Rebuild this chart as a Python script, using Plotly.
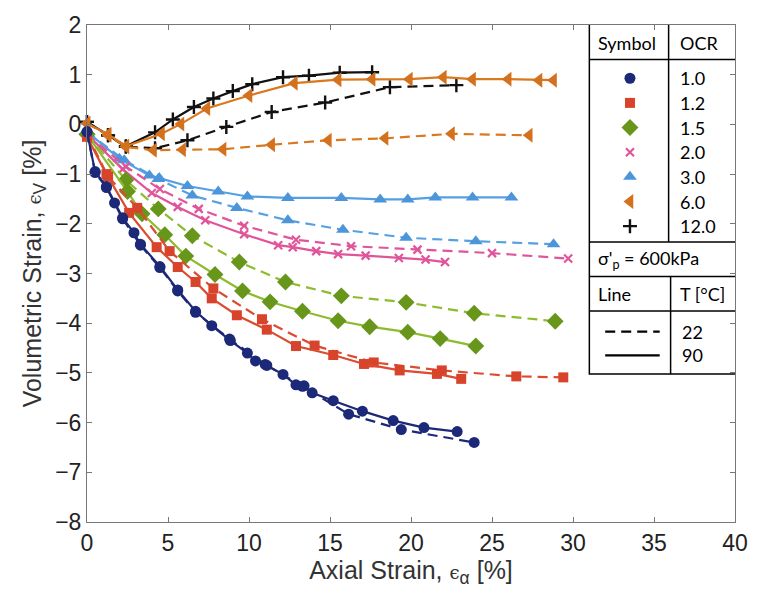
import plotly.graph_objects as go

# ---- measured curves: axial strain (%) vs volumetric strain (%) ----
# OCR 1.0
ocr10_90_x = [0, 0.5, 1.2, 1.7, 2.2, 2.9, 3.3, 4.5, 5.6, 6.7, 7.7, 8.85, 9.9, 10.4, 11.1, 12.1, 12.9, 13.4, 13.9, 15.2, 17.0, 18.9, 20.8, 22.85]
ocr10_90_y = [-0.15, -0.95, -1.25, -1.58, -1.88, -2.18, -2.41, -2.86, -3.33, -3.76, -4.05, -4.35, -4.6, -4.76, -4.85, -5.03, -5.24, -5.26, -5.4, -5.56, -5.77, -5.96, -6.1, -6.18]
ocr10_22_x = [0, 0.5, 1.2, 2.2, 3.3, 4.5, 5.6, 6.7, 8.8, 11.0, 13.3, 16.15, 19.4, 23.9]
ocr10_22_y = [-0.15, -0.97, -1.27, -1.9, -2.43, -2.88, -3.35, -3.78, -4.32, -4.83, -5.27, -5.83, -6.14, -6.4]
# OCR 1.2
ocr12_90_x = [0, 1.2, 2.6, 4.3, 5.6, 6.7, 7.7, 9.25, 11.1, 12.9, 15.2, 17.1, 19.3, 21.6, 23.1]
ocr12_90_y = [-0.25, -1.0, -1.78, -2.47, -2.87, -3.17, -3.5, -3.84, -4.13, -4.46, -4.64, -4.82, -4.95, -5.02, -5.12]
ocr12_22_x = [0, 1.3, 3.1, 5.1, 7.8, 10.8, 14.05, 17.7, 21.9, 26.5, 29.4]
ocr12_22_y = [-0.2, -1.05, -1.68, -2.55, -3.3, -3.92, -4.45, -4.79, -4.95, -5.07, -5.09]
# OCR 1.5
ocr15_90_x = [0, 2.5, 3.4, 4.8, 6.1, 7.9, 9.6, 11.3, 13.3, 15.5, 17.45, 19.8, 21.8, 24.0]
ocr15_90_y = [-0.2, -1.35, -1.8, -2.22, -2.65, -3.02, -3.35, -3.57, -3.76, -3.95, -4.07, -4.18, -4.31, -4.46]
ocr15_22_x = [0, 2.4, 4.4, 6.5, 9.4, 12.25, 15.7, 19.7, 23.9, 28.9]
ocr15_22_y = [-0.2, -1.12, -1.7, -2.24, -2.77, -3.17, -3.45, -3.58, -3.8, -3.96]
# OCR 2.0
ocr20_90_x = [0, 2.2, 4.0, 5.6, 7.3, 9.7, 11.8, 12.7, 14.15, 15.5, 17.2, 19.25, 20.9, 22.1]
ocr20_90_y = [-0.2, -0.9, -1.38, -1.66, -1.93, -2.21, -2.43, -2.47, -2.55, -2.61, -2.64, -2.69, -2.72, -2.77]
ocr20_22_x = [0, 2.4, 4.5, 6.9, 9.7, 12.9, 16.3, 20.4, 25.0, 29.7]
ocr20_22_y = [-0.2, -0.85, -1.3, -1.7, -2.04, -2.32, -2.45, -2.52, -2.59, -2.7]
# OCR 3.0
ocr30_90_x = [0, 2.0, 3.85, 4.46, 6.2, 8.1, 9.9, 12.4, 15.7, 18.1, 19.8, 21.5, 23.8, 26.2]
ocr30_90_y = [-0.15, -0.69, -1.03, -1.08, -1.24, -1.35, -1.45, -1.48, -1.48, -1.51, -1.51, -1.47, -1.47, -1.47]
ocr30_22_x = [0, 2.3, 4.4, 6.5, 9.25, 12.4, 15.8, 19.7, 24.0, 28.8]
ocr30_22_y = [-0.15, -0.72, -1.1, -1.43, -1.68, -1.93, -2.12, -2.28, -2.35, -2.41]
# OCR 6.0
ocr60_90_x = [0, 1.3, 2.4, 4.6, 5.8, 7.4, 10.0, 12.8, 15.5, 17.6, 19.9, 22.0, 23.8, 26.0, 27.9, 28.8]
ocr60_90_y = [0.02, -0.2, -0.44, -0.19, 0.01, 0.32, 0.58, 0.83, 0.9, 0.91, 0.91, 0.95, 0.91, 0.91, 0.89, 0.89]
ocr60_22_x = [0, 1.3, 2.4, 4.1, 5.9, 8.4, 11.4, 14.9, 18.4, 22.5, 27.3]
ocr60_22_y = [0.02, -0.22, -0.45, -0.52, -0.51, -0.5, -0.41, -0.32, -0.28, -0.19, -0.22]
# OCR 12.0
ocr120_90_x = [0, 1.3, 2.4, 4.2, 5.3, 6.6, 7.8, 9.0, 10.2, 12.1, 13.7, 15.6, 17.6]
ocr120_90_y = [0.05, -0.22, -0.44, -0.16, 0.1, 0.35, 0.52, 0.67, 0.81, 0.95, 0.98, 1.04, 1.05]
ocr120_22_x = [0, 1.3, 2.4, 4.2, 6.2, 8.6, 11.4, 14.7, 18.7, 22.8]
ocr120_22_y = [0.05, -0.22, -0.45, -0.48, -0.32, -0.05, 0.25, 0.44, 0.75, 0.79]

ocr_labels = ["1.0", "1.2", "1.5", "2.0", "3.0", "6.0", "12.0"]
temp_labels = ["22", "90"]

# ---- styling per OCR ----
styles = [
    dict(color="#1c2878", line="#1c2878", symbol="circle", size=11),
    dict(color="#d8432b", line="#dc4a30", symbol="square", size=10),
    dict(color="#67961b", line="#8cbc2c", symbol="diamond", size=13),
    dict(color="#e0559a", line="#e0559a", symbol="x-thin", size=8),
    dict(color="#4d95db", line="#55a0e2", symbol="triangle-up", size=12),
    dict(color="#d4711d", line="#d9781f", symbol="triangle-left", size=13),
    dict(color="#111111", line="#111111", symbol="cross-thin", size=10),
]
series = [
    (ocr10_22_x, ocr10_22_y, ocr10_90_x, ocr10_90_y),
    (ocr12_22_x, ocr12_22_y, ocr12_90_x, ocr12_90_y),
    (ocr15_22_x, ocr15_22_y, ocr15_90_x, ocr15_90_y),
    (ocr20_22_x, ocr20_22_y, ocr20_90_x, ocr20_90_y),
    (ocr30_22_x, ocr30_22_y, ocr30_90_x, ocr30_90_y),
    (ocr60_22_x, ocr60_22_y, ocr60_90_x, ocr60_90_y),
    (ocr120_22_x, ocr120_22_y, ocr120_90_x, ocr120_90_y),
]

DASH = "10px,6px"


def marker_of(st):
    m = dict(symbol=st["symbol"], size=st["size"], color=st["color"])
    if st["symbol"] in ("x-thin", "cross-thin"):
        m["line"] = dict(color=st["color"], width=2.2 if st["symbol"] == "x-thin" else 2.4)
    else:
        m["line"] = dict(width=0)
    return m


fig = go.Figure()

# draw from highest OCR to lowest so the dense low-OCR curves sit on top
for st, (x22, y22, x90, y90) in reversed(list(zip(styles, series))):
    fig.add_trace(go.Scatter(
        x=x22, y=y22, mode="lines+markers",
        line=dict(color=st["line"], width=2.2, dash=DASH),
        marker=marker_of(st), showlegend=False, cliponaxis=False))
    fig.add_trace(go.Scatter(
        x=x90, y=y90, mode="lines+markers",
        line=dict(color=st["line"], width=2.2),
        marker=marker_of(st), showlegend=False, cliponaxis=False))

# ---- key table, drawn on an overlay axis measured in screen pixels ----
L, R, T, B = 87, 741, 18, 522  # plot area in pixels
tab_l, tab_r, tab_t, tab_b = 594, 742, 17, 372
col_x = 674
row_header_b = 53
sym_y0, sym_dy = 72, 25
sep1, sep2, sep3 = 238, 273, 308
line_y = [329, 353]

for i, st in enumerate(styles):
    fig.add_trace(go.Scatter(
        x=[635], y=[sym_y0 + i * sym_dy], mode="markers",
        marker=marker_of(st), xaxis="x2", yaxis="y2",
        showlegend=False, cliponaxis=False, hoverinfo="skip"))

fig.add_trace(go.Scatter(x=[610, 665], y=[line_y[0]] * 2, mode="lines",
                         line=dict(color="black", width=2.2, dash="10px,6px"),
                         xaxis="x2", yaxis="y2", showlegend=False, hoverinfo="skip"))
fig.add_trace(go.Scatter(x=[610, 665], y=[line_y[1]] * 2, mode="lines",
                         line=dict(color="black", width=2.2),
                         xaxis="x2", yaxis="y2", showlegend=False, hoverinfo="skip"))

tline = dict(color="black", width=1.5)
shapes = [
    dict(type="rect", x0=tab_l, x1=tab_r, y0=tab_t, y1=tab_b, line=tline),
    dict(type="line", x0=col_x, x1=col_x, y0=tab_t, y1=sep1, line=tline),
    dict(type="line", x0=tab_l, x1=tab_r, y0=row_header_b, y1=row_header_b, line=tline),
    dict(type="line", x0=tab_l, x1=tab_r, y0=sep1, y1=sep1, line=tline),
    dict(type="line", x0=tab_l, x1=tab_r, y0=sep2, y1=sep2, line=tline),
    dict(type="line", x0=tab_l, x1=tab_r, y0=sep3, y1=sep3, line=tline),
    dict(type="line", x0=col_x + 2, x1=col_x + 2, y0=sep2, y1=tab_b, line=tline),
]
for s in shapes:
    s.update(xref="x2", yref="y2", layer="above")

tfont = dict(family="Lato, Open Sans, sans-serif", size=18, color="black")
annos = []


def cell(txt, x, y):
    annos.append(dict(text=txt, x=x, y=y, xref="x2", yref="y2", xanchor="left",
                      yanchor="middle", showarrow=False, font=tfont))


cell("Symbol", 601, 36)
cell("OCR", 683, 36)
for i, lab in enumerate(ocr_labels):
    cell(lab, 683, sym_y0 + i * sym_dy)
cell("σ'<sub>p</sub> = 600kPa", 601, 256)
cell("Line", 601, 291)
cell("T [°C]", 683, 291)
for yy, lab in zip(line_y, temp_labels):
    cell(lab, 685, yy)

tickfont = dict(family="Liberation Sans, Arial, sans-serif", size=23, color="#222222")
titlefont = dict(family="Liberation Sans, Arial, sans-serif", size=25, color="#333333")
eps = "<span style='font-family:DejaVu Serif, serif;font-size:18px'>ϵ</span>"

fig.update_layout(
    width=760, height=599,
    margin=dict(l=L, r=760 - R, t=T, b=599 - B),
    paper_bgcolor="white", plot_bgcolor="white",
    shapes=shapes, annotations=annos,
    xaxis=dict(range=[0, 40], dtick=5, showgrid=False, zeroline=False,
               showline=True, linecolor="#777777", linewidth=1, mirror="ticks",
               ticks="inside", ticklen=5, tickcolor="#777777",
               tickfont=tickfont,
               title=dict(text="Axial Strain, " + eps + "<sub>α</sub> [%]",
                          font=titlefont, standoff=6)),
    yaxis=dict(range=[-8, 2], dtick=1, showgrid=False, zeroline=False,
               showline=True, linecolor="#777777", linewidth=1, mirror="ticks",
               ticks="inside", ticklen=5, tickcolor="#777777",
               tickfont=tickfont,
               title=dict(text="Volumetric Strain, " + eps + "<sub>V</sub> [%]",
                          font=titlefont, standoff=6)),
    xaxis2=dict(overlaying="x", range=[L, R], visible=False, anchor="y2"),
    yaxis2=dict(overlaying="y", range=[B, T], visible=False, anchor="x2"),
)

fig.write_html("out.html")
